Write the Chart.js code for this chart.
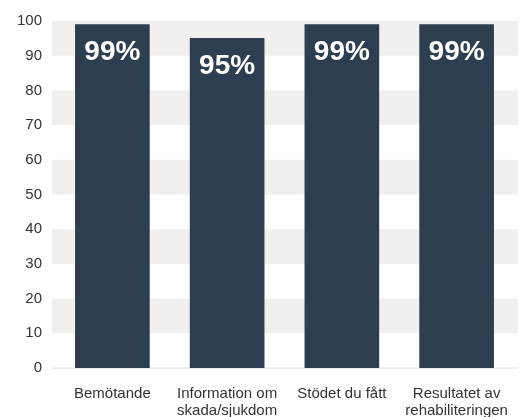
<!DOCTYPE html>
<html>
<head>
<meta charset="utf-8">
<script src="https://cdn.jsdelivr.net/npm/chart.js@4/dist/chart.umd.min.js"></script>
<style>
html,body{margin:0;padding:0;background:#ffffff;}
#wrap{width:521px;height:417px;position:relative;}
</style>
</head>
<body>
<div id="wrap"><canvas id="c" width="521" height="417"></canvas></div>
<script>
const categories = [["Bemötande"], ["Information om", "skada/sjukdom"], ["Stödet du fått"], ["Resultatet av", "rehabiliteringen"]];
const values = [99, 95, 99, 99];
const valueLabels = ["99%", "95%", "99%", "99%"];
const yTicks = [0, 10, 20, 30, 40, 50, 60, 70, 80, 90, 100];

const FONT = "'Liberation Sans', Arial, sans-serif";

const stripes = {
  id: 'stripes',
  beforeDatasetsDraw(chart) {
    const {ctx, chartArea, scales} = chart;
    const y = scales.y;
    const L = chartArea.left - 3, R = chartArea.right + 4;
    ctx.save();
    for (let i = 0; i < yTicks.length - 1; i++) {
      if (i % 2 === 1) {
        const y1 = y.getPixelForValue(yTicks[i + 1]);
        const y0 = y.getPixelForValue(yTicks[i]);
        ctx.fillStyle = '#f2f0ee';
        ctx.fillRect(L, y1, R - L, y0 - y1);
      }
    }
    const z = y.getPixelForValue(0);
    ctx.fillStyle = '#e6e4e2';
    ctx.fillRect(L, z - 0.5, R - L, 1.2);
    ctx.restore();
  }
};

const labelsPlugin = {
  id: 'vlabels',
  afterDatasetsDraw(chart) {
    const {ctx} = chart;
    const meta = chart.getDatasetMeta(0);
    ctx.save();
    ctx.fillStyle = '#ffffff';
    ctx.font = "bold 28px " + FONT;
    ctx.textAlign = 'center';
    ctx.textBaseline = 'alphabetic';
    meta.data.forEach((bar, i) => {
      ctx.fillText(valueLabels[i], bar.x, bar.y + 35.5);
    });
    ctx.restore();
  }
};

new Chart(document.getElementById('c'), {
  type: 'bar',
  data: {
    labels: categories,
    datasets: [{
      data: values,
      backgroundColor: '#2c3e4f',
      borderWidth: 0,
      barThickness: 74
    }]
  },
  options: {
    responsive: false,
    animation: false,
    devicePixelRatio: 1,
    layout: {padding: {top: 21, right: 7, left: 0, bottom: 0}},
    plugins: {legend: {display: false}, tooltip: {enabled: false}},
    scales: {
      y: {
        min: 0, max: 100,
        afterFit(s) { s.width = 55; s.paddingTop = 0; s.paddingBottom = 0; },
        afterBuildTicks(s) { s.ticks = yTicks.map(v => ({value: v})); },
        grid: {display: false, drawTicks: false},
        border: {display: false},
        ticks: {padding: 13, color: '#333333', font: {family: FONT, size: 15}}
      },
      x: {
        afterFit(s) { s.height = 49; s.paddingLeft = 0; s.paddingRight = 0; },
        grid: {display: false, drawTicks: false},
        border: {display: false},
        ticks: {padding: 17, color: '#333333', maxRotation: 0, autoSkip: false, font: {family: FONT, size: 15, lineHeight: 1.15}}
      }
    }
  },
  plugins: [stripes, labelsPlugin]
});
</script>
</body>
</html>
